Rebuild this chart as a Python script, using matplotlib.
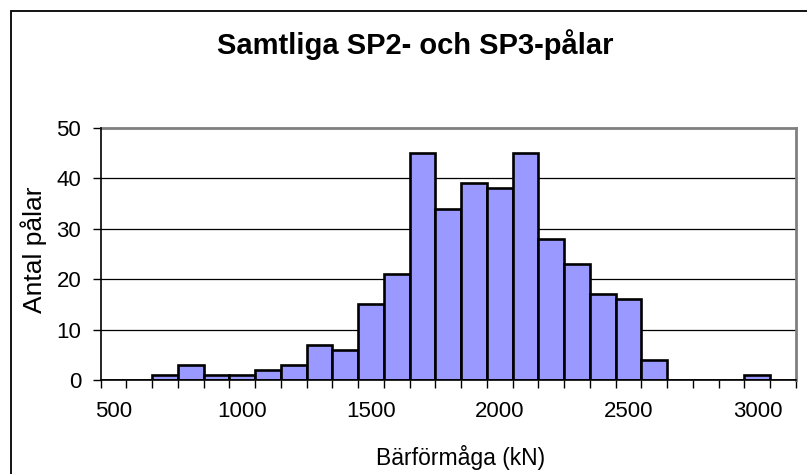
import matplotlib
matplotlib.use("Agg")
import matplotlib.pyplot as plt
from matplotlib.patches import Rectangle
from matplotlib.ticker import FixedLocator, FixedFormatter

plt.rcParams['font.family'] = ['Liberation Sans', 'DejaVu Sans']

# Data (bin categories in kN and number of piles per bin)
bins = [500, 600, 700, 800, 900, 1000, 1100, 1200, 1300, 1400, 1500, 1600, 1700,
        1800, 1900, 2000, 2100, 2200, 2300, 2400, 2500, 2600, 2700, 2800, 2900,
        3000, 3100]
counts = [0, 0, 1, 3, 1, 1, 2, 3, 7, 6, 15, 21, 45, 34, 39, 38, 45, 28, 23, 17,
          16, 4, 0, 0, 0, 1, 0]
tick_labels = ['500', '1000', '1500', '2000', '2500', '3000']
yticks = [0, 10, 20, 30, 40, 50]

title = 'Samtliga SP2- och SP3-pålar'
xlabel = 'Bärförmåga (kN)'
ylabel = 'Antal pålar'

W, H = 807, 474
fig = plt.figure(figsize=(W / 100, H / 100), dpi=100)
fig.patch.set_facecolor('white')

# outer chart frame
fig.patches.append(Rectangle((11 / W, -0.05), 1.2, 1 - 10.5 / H + 0.05,
                             transform=fig.transFigure, fill=False,
                             edgecolor='black', linewidth=1.3, zorder=0))

ax = fig.add_axes([100.7 / W, 1 - 380 / H, (796 - 100.7) / W, (380 - 128) / H])

pos = list(range(len(bins)))
ax.bar(pos, counts, width=1.0, color='#9999FF', edgecolor='black',
       linewidth=1.9, zorder=3)

ax.set_xlim(-0.5, len(bins) - 0.5)
ax.set_ylim(0, 50)

# y axis
ax.set_yticks(yticks)
ax.set_yticklabels([str(v) for v in yticks])
ax.tick_params(axis='y', direction='out', length=6, width=1, pad=8,
               labelsize=16, colors='black')
for v in yticks[1:-1]:
    ax.axhline(v, color='black', linewidth=0.9, zorder=1)

# x axis: labels at every 5th category, ticks at category boundaries
label_pos = [bins.index(int(t)) for t in tick_labels]
ax.xaxis.set_major_locator(FixedLocator(label_pos))
ax.xaxis.set_major_formatter(FixedFormatter(tick_labels))
ax.xaxis.set_minor_locator(FixedLocator([p - 0.5 for p in range(len(bins) + 1)]))
ax.tick_params(axis='x', which='major', length=0, pad=15, labelsize=16)
ax.tick_params(axis='x', which='minor', direction='out', length=6, width=1)

for s in ['left', 'bottom']:
    ax.spines[s].set_color('black')
    ax.spines[s].set_linewidth(1.2)
    ax.spines[s].set_zorder(5)
for s in ['top', 'right']:
    ax.spines[s].set_color('#808080')
    ax.spines[s].set_linewidth(2)

fig.text(415 / W, 1 - 45 / H, title, ha='center', va='center',
         fontsize=21, fontweight='bold')
fig.text(461 / W, 1 - 458 / H, xlabel, ha='center', va='center', fontsize=16.5)
fig.text(34 / W, 1 - 250 / H, ylabel, ha='center', va='center', fontsize=19,
         rotation=90)

fig.savefig('out.png', dpi=100, facecolor='white')
